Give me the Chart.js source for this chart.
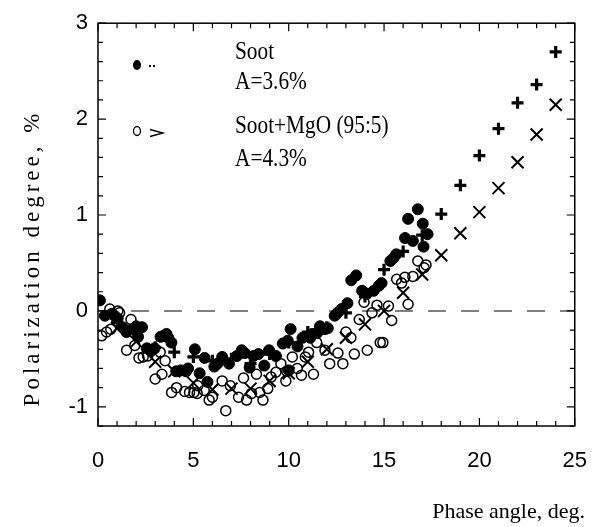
<!DOCTYPE html>
<html>
<head>
<meta charset="utf-8">
<script src="https://cdn.jsdelivr.net/npm/chart.js@4"></script>
<style>
  body { margin: 0; background: #fff; }
  #wrap { width: 609px; height: 527px; }
</style>
</head>
<body>
<div id="wrap"><canvas id="polChart" width="609" height="527"></canvas></div>
<script>
// Soot (filled circles)
const sootAngle = [0.1, 0.36, 0.72, 0.87, 1.03, 1.28, 1.49, 1.79, 2.0, 2.1, 2.31, 2.56, 2.77, 2.97, 3.28, 3.44, 3.59, 3.69, 3.85,
  4.1, 4.36, 4.62, 4.72, 5.08, 5.33, 5.59, 5.74, 6.1, 6.26, 6.51, 6.87, 7.28, 7.54, 7.69, 7.95, 8.15, 8.41, 8.72, 8.97,
  9.33, 9.69, 9.95, 10.0, 10.1, 10.46, 10.72, 11.13, 11.23, 11.49, 11.64, 11.9, 12.05, 12.41, 12.56, 12.77, 13.08, 13.28,
  13.54, 13.85, 14.1, 14.46, 14.72, 14.87, 15.33, 15.49, 15.64, 16.1, 16.26, 16.51, 16.77, 17.03, 17.07, 17.28];
const sootPol = [0.11, -0.05, -0.03, -0.05, -0.08, -0.17, -0.22, -0.19, -0.16, -0.27, -0.17, -0.39, -0.42, -0.39, -0.27, -0.26, -0.24, -0.28, -0.33,
  -0.63, -0.62, -0.63, -0.6, -0.4, -0.65, -0.49, -0.74, -0.58, -0.55, -0.48, -0.55, -0.47, -0.41, -0.44, -0.59, -0.47, -0.45, -0.57, -0.41,
  -0.47, -0.34, -0.31, -0.62, -0.19, -0.37, -0.28, -0.28, -0.24, -0.23, -0.16, -0.19, -0.18, -0.05, -0.02, 0.02, 0.08, 0.32,
  0.37, 0.21, 0.18, 0.21, 0.26, 0.29, 0.52, 0.55, 0.59, 0.76, 0.96, 0.73, 1.06, 0.91, 0.67, 0.8];

// Soot+MgO (open circles)
const mgoAngle = [0.19, 0.45, 0.67, 0.62, 1.04, 1.13, 1.73, 1.5, 1.93, 2.15, 2.37, 2.6, 3.0, 3.26, 3.35, 3.52, 3.86, 4.12, 4.55,
  4.8, 5.03, 5.2, 5.23, 5.57, 5.83, 6.0, 6.51, 6.7, 6.94, 7.37, 7.63, 7.79, 8.05, 8.31, 8.48, 8.65, 8.9, 9.08, 9.33,
  9.59, 9.85, 9.9, 10.19, 10.45, 10.67, 10.87, 11.04, 11.3, 11.47, 11.9, 12.15, 12.58, 12.84, 13.0, 13.26, 13.44, 13.7,
  13.95, 14.12, 14.37, 14.63, 14.8, 14.94, 15.23, 15.4, 15.66, 15.92, 16.09, 16.26, 16.51, 16.77, 17.1, 17.2];
const mgoPol = [-0.26, -0.22, -0.19, 0.02, 0.0, -0.02, -0.09, -0.41, -0.36, -0.49, -0.48, -0.47, -0.71, -0.43, -0.66, -0.52, -0.85, -0.8, -0.84,
  -0.85, -0.85, -0.86, -0.78, -0.83, -0.93, -0.9, -0.73, -1.04, -0.78, -0.9, -0.7, -0.93, -0.86, -0.66, -0.85, -0.93, -0.81, -0.69, -0.64,
  -0.55, -0.73, -0.63, -0.48, -0.6, -0.67, -0.48, -0.43, -0.66, -0.33, -0.41, -0.55, -0.44, -0.55, -0.22, -0.28, -0.45, -0.09,
  0.09, -0.41, -0.02, 0.06, -0.33, -0.33, 0.05, -0.1, 0.33, 0.29, 0.35, 0.07, 0.36, 0.52, 0.45, 0.48];

// averaged / fitted values at whole degrees
const avgAngle = [1, 2, 3, 4, 5, 6, 7, 8, 9, 10, 11, 12, 13, 14, 15, 16, 17, 18, 19, 20, 21, 22, 23, 24];
const sootAvg = [-0.12, -0.22, -0.38, -0.43, -0.48, -0.52, -0.5, -0.55, -0.45, -0.33, -0.22, -0.17, -0.02, 0.15,
  0.43, 0.62, 0.79, 1.01, 1.31, 1.62, 1.9, 2.17, 2.36, 2.7];
const mgoAvg = [-0.18, -0.32, -0.53, -0.63, -0.75, -0.82, -0.81, -0.81, -0.73, -0.65, -0.53, -0.4, -0.28, -0.14,
  0.0, 0.19, 0.38, 0.58, 0.81, 1.03, 1.28, 1.55, 1.84, 2.15];

const xTicks = [0, 5, 10, 15, 20, 25];
const yTicks = [-1, 0, 1, 2, 3];

const pts = (xs, ys) => xs.map((x, i) => ({ x: x, y: ys[i] }));

// frame, inward ticks, zero line, legend text, axis titles
const decor = {
  id: 'decor',
  beforeDatasetsDraw(chart) {
    const ctx = chart.ctx;
    const a = chart.chartArea;
    const y0 = chart.scales.y.getPixelForValue(0);
    ctx.save();
    ctx.strokeStyle = '#808080';
    ctx.lineWidth = 2;
    ctx.setLineDash([18, 15]);
    ctx.beginPath();
    ctx.moveTo(a.left, y0);
    ctx.lineTo(a.right, y0);
    ctx.stroke();
    ctx.restore();
  },
  afterDraw(chart) {
    const ctx = chart.ctx;
    const a = chart.chartArea;
    const xs = chart.scales.x, ys = chart.scales.y;
    ctx.save();
    ctx.strokeStyle = '#000';
    ctx.lineWidth = 1.5;
    ctx.strokeRect(a.left, a.top, a.right - a.left, a.bottom - a.top);

    ctx.lineWidth = 1.2;
    ctx.beginPath();
    for (let v = 0; v <= 25; v++) {
      const px = xs.getPixelForValue(v);
      const len = v % 5 === 0 ? 8 : 5;
      ctx.moveTo(px, a.bottom); ctx.lineTo(px, a.bottom - len);
      ctx.moveTo(px, a.top); ctx.lineTo(px, a.top + len);
    }
    for (let k = -6; k <= 15; k++) {
      const v = k / 5;
      const py = ys.getPixelForValue(v);
      const len = k % 5 === 0 ? 8 : 5;
      ctx.moveTo(a.left, py); ctx.lineTo(a.left + len, py);
      ctx.moveTo(a.right, py); ctx.lineTo(a.right - len, py);
    }
    ctx.stroke();

    // legend
    ctx.fillStyle = '#000';
    ctx.beginPath();
    ctx.ellipse(137, 65, 4, 5, 0, 0, Math.PI * 2);
    ctx.fill();
    ctx.fillRect(149, 65, 2, 2);
    ctx.fillRect(153, 65, 2, 2);
    ctx.lineWidth = 1.3;
    ctx.beginPath();
    ctx.ellipse(137, 131, 3.5, 4.5, 0, 0, Math.PI * 2);
    ctx.stroke();
    ctx.beginPath();
    ctx.moveTo(150, 129.5); ctx.lineTo(163, 133); ctx.lineTo(150, 136.5);
    ctx.stroke();

    const serif = '"Liberation Serif", "Times New Roman", serif';
    const label = (txt, x, y) => {
      ctx.save();
      ctx.translate(x, y);
      ctx.scale(0.82, 1);
      ctx.font = '26px ' + serif;
      ctx.textAlign = 'left';
      ctx.textBaseline = 'alphabetic';
      ctx.fillText(txt, 0, 0);
      ctx.restore();
    };
    label('Soot', 235, 59);
    label('A=3.6%', 235, 89);
    label('Soot+MgO (95:5)', 235, 133);
    label('A=4.3%', 235, 166);

    // y title, spaced out letters
    const yTitle = 'Polarization degree, %';
    ctx.save();
    ctx.font = '23px ' + serif;
    const sp = 4;
    let total = 0;
    for (const ch of yTitle) total += ctx.measureText(ch).width + sp;
    total -= sp;
    ctx.translate(39, 260);
    ctx.rotate(-Math.PI / 2);
    let cx = -total / 2;
    for (const ch of yTitle) {
      ctx.fillText(ch, cx, 0);
      cx += ctx.measureText(ch).width + sp;
    }
    ctx.restore();

    // x title
    ctx.save();
    ctx.font = '22px ' + serif;
    ctx.textAlign = 'right';
    ctx.fillText('Phase angle, deg.', 585, 518);
    ctx.restore();
    ctx.restore();
  }
};

const ctx = document.getElementById('polChart').getContext('2d');
const chart = new Chart(ctx, {
  type: 'scatter',
  data: {
    datasets: [
      {
        label: 'Soot fit',
        data: pts(avgAngle, sootAvg),
        pointStyle: 'cross',
        pointRadius: 6,
        borderWidth: 3.2,
        borderColor: '#000'
      },
      {
        label: 'Soot+MgO fit',
        data: pts(avgAngle, mgoAvg),
        pointStyle: 'crossRot',
        pointRadius: 8.5,
        borderWidth: 2,
        borderColor: '#000'
      },
      {
        label: 'Soot',
        data: pts(sootAngle, sootPol),
        pointStyle: 'circle',
        pointRadius: 5.5,
        backgroundColor: '#000',
        borderColor: '#000',
        borderWidth: 1
      },
      {
        label: 'Soot+MgO (95:5)',
        data: pts(mgoAngle, mgoPol),
        pointStyle: 'circle',
        pointRadius: 5,
        backgroundColor: 'rgba(0,0,0,0)',
        borderColor: '#000',
        borderWidth: 1.5
      }
    ]
  },
  options: {
    responsive: false,
    animation: false,
    layout: { padding: { left: 0, top: 21, right: 24, bottom: 0 } },
    plugins: {
      legend: { display: false },
      tooltip: { enabled: false }
    },
    scales: {
      x: {
        type: 'linear',
        min: 0,
        max: 25,
        afterFit: s => { s.height = 101; },
        afterBuildTicks: s => { s.ticks = xTicks.map(v => ({ value: v })); },
        grid: { display: false, drawTicks: false },
        border: { display: false },
        ticks: {
          padding: 22,
          color: '#000',
          font: { family: '"Liberation Sans", Arial, sans-serif', size: 22 }
        }
      },
      y: {
        type: 'linear',
        min: -1.2,
        max: 3,
        afterFit: s => { s.width = 98; },
        afterBuildTicks: s => { s.ticks = yTicks.map(v => ({ value: v })); },
        grid: { display: false, drawTicks: false },
        border: { display: false },
        ticks: {
          padding: 10,
          color: '#000',
          font: { family: '"Liberation Sans", Arial, sans-serif', size: 22 }
        }
      }
    }
  },
  plugins: [decor]
});
</script>
</body>
</html>
